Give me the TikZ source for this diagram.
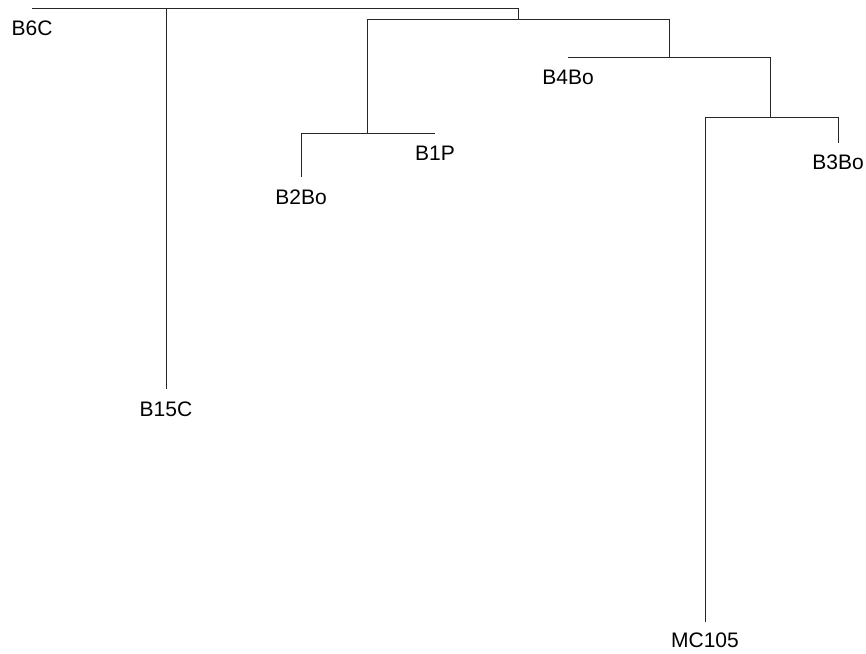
\documentclass[tikz,border=0pt]{standalone}
\usepackage{fontspec}
\setmainfont{Liberation Sans}
\usetikzlibrary{positioning}
\begin{document}
\begin{tikzpicture}[x=1pt,y=-1pt,
  edge/.style={line width=1pt, draw=black!85},
  leaf/.style={inner sep=0pt, outer sep=0pt, font=\fontsize{21}{24}\selectfont}]
\useasboundingbox (0,0) rectangle (866,653);
% leaf ends
\coordinate (c6)  at (32,8);
\coordinate (c15) at (166,389);
\coordinate (c2)  at (301,177);
\coordinate (c1)  at (435,133);
\coordinate (c4)  at (568,57);
\coordinate (c3)  at (838,143);
\coordinate (cm)  at (705,622);
% internal points
\coordinate (g) at (518,8);
\coordinate (h) at (518,19);
\coordinate (p) at (367,133);
\coordinate (q) at (669,19);
\coordinate (f) at (669,57);
\coordinate (d) at (770,117);
\coordinate (e) at (838,117);
% branches
\draw[edge] (c6) -| (c15);
\draw[edge] (c6) -- (g) -- (h);
\draw[edge] (c2) |- (c1);
\draw[edge] (p) |- (q) -- (f);
\draw[edge] (c4) -| (d);
\draw[edge] (cm) |- (e) -- (c3);
% labels
\node[leaf, below=13pt of c6]  (lB6C)  {B6C};
\node[leaf, below=13pt of c15] (lB15C) {B15C};
\node[leaf, below=13pt of c2]  (lB2Bo) {B2Bo};
\node[leaf, below=13pt of c1]  (lB1P)  {B1P};
\node[leaf, below=13pt of c4]  (lB4Bo) {B4Bo};
\node[leaf, below=12pt of c3]  (lB3Bo) {B3Bo};
\node[leaf, below=11pt of cm]  (lMC)   {MC105};
\end{tikzpicture}
\end{document}
